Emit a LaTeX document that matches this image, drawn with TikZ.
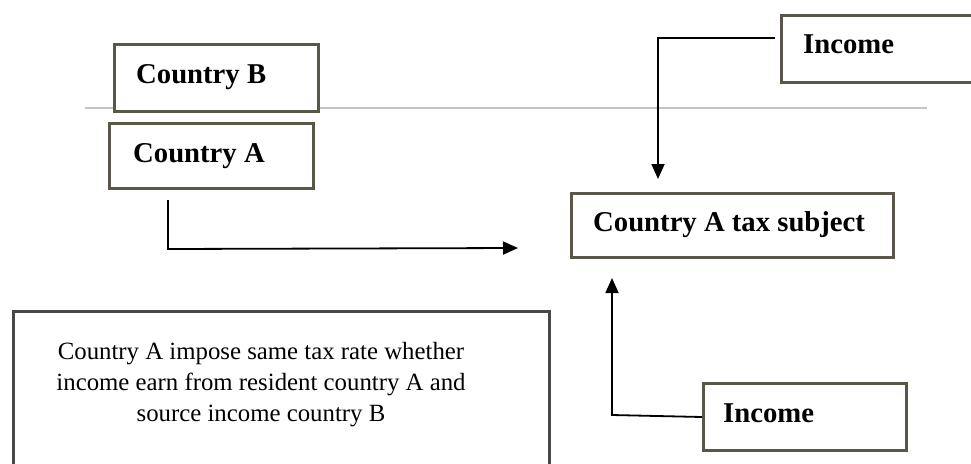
\documentclass[tikz,border=0pt]{standalone}
\usepackage{fontspec}
\setmainfont{Liberation Serif}
\usetikzlibrary{arrows.meta,calc}
\definecolor{boxgray}{HTML}{5A5749}
\definecolor{bigbox}{HTML}{484848}
\definecolor{sepline}{HTML}{C4C4C4}
\tikzset{
  labelbox/.style={draw=boxgray, line width=3pt, fill=white, inner sep=0pt, anchor=north west},
  labeltext/.style={anchor=base west, inner sep=0pt, font=\fontsize{28.7}{33}\selectfont\bfseries},
  conn/.style={draw=black, line width=1.8pt},
  arr/.style={conn, -{Triangle[length=15pt,width=13pt]}},
}
\begin{document}
\begin{tikzpicture}[x=1pt,y=-1pt]
\useasboundingbox (0,0) rectangle (971,463);
% separator line
\coordinate (sepL) at (85,108);
\coordinate (sepR) at (927,108);
\draw[sepline, line width=1.5pt] (sepL) -- (sepR);
% boxes
\node[labelbox, minimum width=204pt, minimum height=67pt] (cB) at (113,43) {};
\node[labeltext] (cBt) at (136,83) {Country B};
\node[labelbox, minimum width=204pt, minimum height=65pt] (cA) at (108,122) {};
\node[labeltext] (cAt) at (133,162) {Country A};
\node[labelbox, minimum width=215pt, minimum height=67pt] (incT) at (780,14) {};
\node[labeltext] (incTt) at (803,53) {Income};
\node[labelbox, minimum width=322pt, minimum height=64pt] (tax) at (570,192) {};
\node[labeltext] (taxt) at (593,231) {Country A tax subject};
\node[labelbox, minimum width=203pt, minimum height=67pt] (incB) at (702,382) {};
\node[labeltext] (incBt) at (723,422) {Income};
% big text box
\node[draw=bigbox, line width=3pt, inner sep=0pt, anchor=north west, minimum width=536pt, minimum height=170pt] (note) at (12,310) {};
\node[align=center, inner sep=0pt, anchor=north, font=\fontsize{24.8}{31}\selectfont] (notet) at (261,342)
  {Country A impose same tax rate whether\\income earn from resident country A and\\source income country B};
% connectors
\coordinate (aStart) at (168,200);
\coordinate (aCorner) at (168,249);
\coordinate (aEnd) at (518,248);
\draw[arr] (aStart) -- (aCorner) -- (aEnd);
\coordinate (tStart) at (775,38);
\coordinate (tCorner) at (658,38);
\coordinate (tEnd) at (658,179);
\draw[arr] (tStart) -- (tCorner) -- (tEnd);
\coordinate (bCorner) at (612,415);
\coordinate (bEnd) at (612,278);
\draw[arr] (incB.west) -- (bCorner) -- (bEnd);
\end{tikzpicture}
\end{document}
